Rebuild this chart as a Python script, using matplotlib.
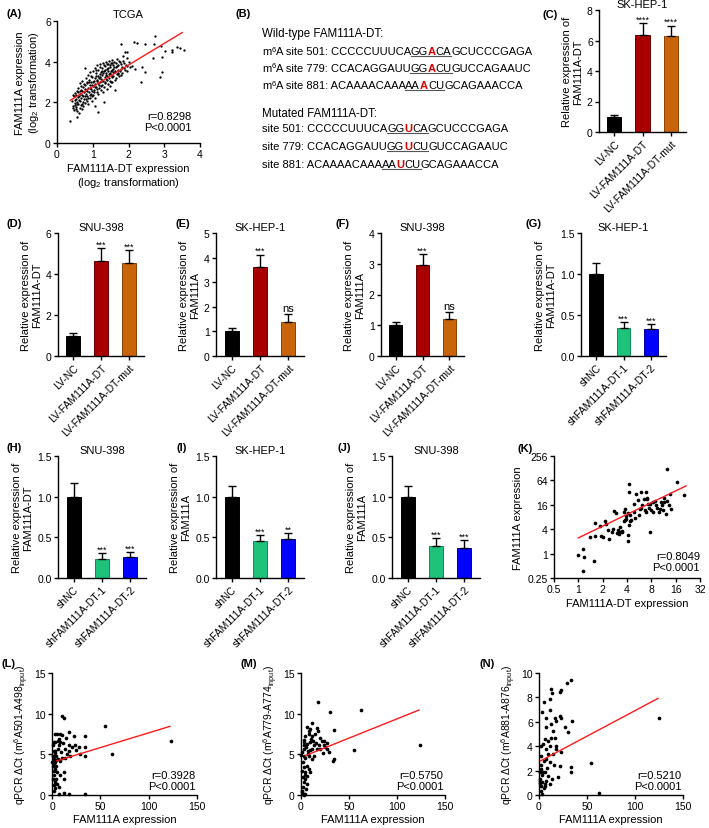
"""
FAM111A-DT / FAM111A multi-panel figure (A-N)
Saves out.png
"""
import numpy as np
import matplotlib.pyplot as plt
from matplotlib.lines import Line2D

plt.rcParams.update({
    "font.family": ["Liberation Sans", "DejaVu Sans"],
    "font.size": 8,
    "axes.linewidth": 1.0,
    "xtick.major.size": 3, "ytick.major.size": 3,
    "xtick.major.width": 1.0, "ytick.major.width": 1.0,
    "xtick.major.pad": 1.5, "ytick.major.pad": 1.5,
    "xtick.labelsize": 7.5, "ytick.labelsize": 7.5,
    "mathtext.fontset": "custom",
    "mathtext.rm": "Liberation Sans",
    "mathtext.it": "Liberation Sans:italic",
    "mathtext.bf": "Liberation Sans:bold",
    "mathtext.default": "regular",
})

# ---------------- data ----------------
# (A) TCGA scatter: FAM111A-DT (x) vs FAM111A (y), log2
a_points = [
    (0.42, 2.05), (0.45, 1.82), (0.47, 2.3), (0.48, 1.6), (0.5, 2.45), (0.5, 1.95), (0.52, 2.15),
    (0.53, 1.75), (0.55, 2.55), (0.55, 2.0), (0.57, 1.55), (0.58, 2.25), (0.6, 1.9), (0.6, 2.7),
    (0.62, 2.1), (0.63, 1.7), (0.64, 2.4), (0.65, 2.95), (0.66, 1.85), (0.67, 2.2), (0.68, 2.6),
    (0.7, 1.65), (0.7, 2.35), (0.71, 3.05), (0.72, 2.0), (0.73, 2.75), (0.74, 1.8), (0.75, 2.5),
    (0.76, 2.15), (0.77, 3.7), (0.78, 2.85), (0.79, 1.95), (0.8, 2.4), (0.8, 3.2), (0.82, 2.6),
    (0.83, 2.05), (0.84, 2.95), (0.85, 2.3), (0.86, 3.35), (0.87, 2.7), (0.88, 1.9), (0.89, 2.5),
    (0.9, 3.1), (0.91, 2.2), (0.92, 2.85), (0.93, 3.5), (0.94, 2.4), (0.95, 2.65), (0.96, 3.0),
    (0.97, 2.05), (0.98, 3.25), (0.99, 2.55), (1.0, 2.8), (1.01, 3.55), (1.02, 2.35), (1.03, 3.05),
    (1.04, 2.6), (1.05, 3.7), (1.06, 2.9), (1.07, 2.2), (1.08, 3.3), (1.09, 2.75), (1.1, 3.45),
    (1.11, 2.5), (1.12, 3.1), (1.13, 3.85), (1.14, 2.95), (1.15, 2.4), (1.16, 3.6), (1.17, 3.2),
    (1.18, 2.7), (1.19, 3.4), (1.2, 3.0), (1.21, 3.9), (1.22, 2.6), (1.23, 3.5), (1.24, 3.15),
    (1.25, 2.85), (1.26, 3.7), (1.27, 3.35), (1.28, 2.5), (1.29, 3.95), (1.3, 3.05), (1.31, 3.55),
    (1.32, 2.75), (1.33, 3.25), (1.34, 3.8), (1.35, 2.95), (1.36, 3.45), (1.37, 4.0), (1.38, 3.15),
    (1.39, 2.65), (1.4, 3.65), (1.41, 3.3), (1.42, 3.9), (1.43, 2.9), (1.44, 3.55), (1.45, 4.05),
    (1.46, 3.2), (1.47, 3.75), (1.48, 2.8), (1.49, 3.45), (1.5, 3.95), (1.52, 3.35), (1.53, 4.1),
    (1.54, 3.0), (1.55, 3.6), (1.56, 3.85), (1.58, 3.3), (1.6, 4.0), (1.61, 3.5), (1.62, 3.1),
    (1.64, 3.75), (1.66, 3.95), (1.67, 3.4), (1.69, 4.15), (1.7, 3.6), (1.72, 3.85), (1.74, 3.3),
    (1.76, 4.0), (1.78, 3.65), (1.8, 3.9), (1.82, 3.45), (1.85, 4.05), (1.88, 3.7), (1.92, 3.85),
    (1.95, 3.55), (2.0, 4.0), (2.05, 3.75),
    (0.44, 2.35), (0.46, 1.7), (0.49, 2.1), (0.51, 1.85), (0.54, 2.35), (0.56, 1.9), (0.59, 2.5),
    (0.61, 2.3), (0.63, 2.55), (0.65, 2.05), (0.67, 2.8), (0.69, 1.9), (0.71, 2.55), (0.73, 2.3),
    (0.75, 2.9), (0.77, 2.3), (0.79, 2.65), (0.81, 2.15), (0.83, 3.0), (0.85, 2.55), (0.87, 2.2),
    (0.89, 3.0), (0.91, 2.7), (0.93, 2.35), (0.95, 3.3), (0.97, 2.85), (0.99, 2.3), (1.01, 3.0),
    (1.03, 2.5), (1.05, 3.2), (1.07, 2.75), (1.09, 3.6), (1.11, 3.05), (1.13, 2.65), (1.15, 3.3),
    (1.17, 2.85), (1.19, 3.75), (1.21, 3.25), (1.23, 2.8), (1.25, 3.55), (1.27, 3.05), (1.29, 3.45),
    (1.31, 3.85), (1.33, 3.0), (1.35, 3.6), (1.37, 3.35), (1.39, 3.9), (1.41, 3.1), (1.43, 3.7),
    (1.45, 3.4), (1.47, 3.05), (1.49, 3.85), (1.51, 3.55), (1.53, 3.25), (1.55, 3.95), (1.57, 3.5),
    (1.59, 3.75), (1.63, 3.55), (1.65, 3.2), (1.68, 3.8), (1.71, 3.45), (1.73, 4.05), (1.75, 3.55),
    (1.79, 3.35), (1.83, 3.75), (1.87, 3.95), (1.9, 3.6), (1.97, 3.8),
    # outliers
    (0.36, 1.1), (1.79, 4.87), (2.14, 4.98), (2.23, 4.92), (2.46, 4.87), (2.75, 5.25), (2.7, 4.87),
    (2.91, 4.75), (3.02, 4.54), (3.21, 4.46), (3.22, 4.59), (3.36, 4.7), (3.45, 4.65), (3.54, 4.55),
    (2.93, 4.21), (2.69, 4.16), (2.39, 3.72), (2.35, 2.98), (2.93, 3.51), (2.88, 3.23), (2.18, 3.64),
    (2.11, 3.8), (2.46, 3.5), (1.14, 1.54), (1.32, 2.03), (1.06, 1.8), (0.55, 1.26), (0.62, 1.48),
    (0.52, 1.67), (1.9, 4.46), (1.97, 4.49), (1.86, 4.3), (1.95, 4.16), (1.58, 3.64), (1.72, 3.39),
    (1.51, 2.98), (1.62, 2.62),
]
a_fit_x = [0.37, 3.5]
a_fit_y = [2.1, 5.43]

# (B) m6A motifs: before, motif-left, site, motif-right, after
b_sites = ["501", "779", "881"]
b_wt = [("CCCCCUUUCA", "GG", "A", "CA", "GCUCCCGAGA"),
        ("CCACAGGAUU", "GG", "A", "CU", "GUCCAGAAUC"),
        ("ACAAAACAAA", "AA", "A", "CU", "GCAGAAACCA")]
b_mut = [("CCCCCUUUCA", "GG", "U", "CA", "GCUCCCGAGA"),
         ("CCACAGGAUU", "GG", "U", "CU", "GUCCAGAAUC"),
         ("ACAAAACAAA", "AA", "U", "CU", "GCAGAAACCA")]

# (C)-(J) qPCR bars
lv_groups = ["LV-NC", "LV-FAM111A-DT", "LV-FAM111A-DT-mut"]
sh_groups = ["shNC", "shFAM111A-DT-1", "shFAM111A-DT-2"]
c_mean, c_err, c_sig = [1.0, 6.38, 6.27], [0.1, 0.75, 0.7], ["", "****", "****"]
d_mean, d_err, d_sig = [1.0, 4.65, 4.55], [0.1, 0.6, 0.62], ["", "***", "***"]
e_mean, e_err, e_sig = [1.0, 3.62, 1.37], [0.13, 0.5, 0.33], ["", "***", "ns"]
f_mean, f_err, f_sig = [1.0, 2.96, 1.2], [0.12, 0.35, 0.22], ["", "***", "ns"]
g_mean, g_err, g_sig = [1.0, 0.345, 0.335], [0.14, 0.065, 0.05], ["", "***", "***"]
h_mean, h_err, h_sig = [1.0, 0.237, 0.257], [0.17, 0.07, 0.062], ["", "***", "***"]
i_mean, i_err, i_sig = [1.0, 0.46, 0.48], [0.135, 0.068, 0.07], ["", "***", "**"]
j_mean, j_err, j_sig = [1.0, 0.39, 0.37], [0.135, 0.1, 0.095], ["", "***", "***"]

# (K) FAM111A-DT vs FAM111A (log2 axes)
k_points = [
    (0.98, 0.93), (1.14, 1.3), (1.19, 0.81), (1.14, 0.37), (1.55, 0.65), (1.38, 2.53), (1.62, 2.67),
    (1.62, 5.7), (1.87, 4.8), (1.9, 2.67), (2.0, 2.5), (2.22, 5.3), (2.15, 6.5), (2.42, 2.27),
    (2.7, 4.1), (2.8, 11.4), (2.9, 10.1), (3.1, 3.9), (3.2, 3.4), (3.15, 3.1), (3.5, 3.6),
    (3.76, 12.3), (3.7, 10.6), (3.65, 6.5), (3.8, 6.9), (4.1, 10.0), (4.2, 53), (4.2, 34),
    (3.9, 7.2), (4.2, 5.1), (4.1, 2.9), (4.15, 2.0), (4.4, 6.2), (4.5, 6.9), (4.9, 10.6),
    (4.95, 17), (5.2, 30), (5.4, 20.5), (5.9, 33), (5.8, 12.7), (6.2, 16), (6.8, 33), (7.0, 23),
    (6.5, 22.5), (6.6, 11.6), (7.1, 22), (7.3, 17), (7.5, 13.3), (6.9, 10.6), (7.7, 3.5),
    (8.5, 18.6), (8.5, 10.6), (9.1, 16), (9.5, 13.3), (10.5, 18.6), (10.9, 15.5), (11.5, 23),
    (11.5, 18.6), (11.3, 11.6), (10.0, 10.6), (12.0, 9.6), (12.4, 125), (13.6, 30), (14.2, 12.7),
    (16.5, 60), (20.0, 28), (2.3, 3.8), (2.6, 3.5), (3.0, 3.3), (3.3, 4.5), (3.45, 3.4),
    (3.9, 8.5), (4.4, 9.2), (5.0, 7.5), (5.6, 9.0), (6.0, 13), (8.0, 12), (9.0, 20), (10.2, 12.5),
    (12.5, 20), (13.2, 16), (7.8, 17),
]
k_fit_x = [1.0, 21.5]
k_fit_y = [2.44, 46.9]

# (L)-(N) FAM111A expression vs m6A qPCR delta Ct
l_points = [
    (10.3, 9.67), (12.1, 9.5), (55, 8.5), (123, 6.6), (62, 5.1), (2.8, 7.5), (5.2, 7.5), (8, 7.5),
    (10.3, 7.4), (17.2, 7.7), (22.4, 7.3), (33.8, 7.3), (3.4, 6.5), (5.9, 6.6), (8.6, 6.5),
    (11, 6.4), (6.9, 6.1), (13.8, 5.6), (17.2, 6.1), (20.7, 5.9), (24, 6.1), (27.6, 5.9),
    (34.5, 5.9), (34.5, 4.75), (29.3, 5.0), (1.7, 5.45), (3.4, 5.2), (1, 4.8), (1.7, 4.4),
    (2.8, 4.0), (1, 3.6), (3.4, 3.2), (1.7, 2.9), (2.4, 2.4), (4.5, 2.0), (3.4, 1.6), (5.2, 1.35),
    (6.9, 0.95), (1.7, 0.5), (5.2, 2.8), (8.6, 2.4), (12, 2.0), (12, 2.8), (6.9, 0.1), (17.2, 0.1),
    (12, 0.3), (33.8, 0.1), (15.5, 5.0), (19, 4.8), (10.3, 4.6), (8.6, 4.2), (13.8, 4.5),
    (4.5, 4.8), (5.9, 4.4), (1, 6.1), (1.7, 6.5), (2.8, 5.45), (2.0, 3.9), (4.0, 3.6), (0.8, 2.0),
    (2.2, 1.2), (3.0, 0.9), (6.0, 5.6), (9.0, 5.3), (7.5, 6.9), (14.5, 7.0), (25.0, 5.5),
    (18.0, 5.4), (3.8, 4.3), (0.5, 4.0),
]
l_fit_x = [5.0, 122.0]
l_fit_y = [4.2, 8.44]

m_points = [
    (17.3, 11.4), (29.8, 10.25), (62.3, 10.5), (124, 6.2), (54.7, 5.5), (34.6, 8.0), (33.9, 4.4),
    (33.2, 4.2), (11.4, 8.85), (9.7, 8.1), (16.6, 8.2), (6.2, 8.4), (8, 7.5), (4.5, 7.3),
    (14.9, 7.5), (19.4, 7.0), (21.8, 6.7), (23.5, 6.1), (2.8, 6.5), (6.2, 6.3), (9.7, 6.5),
    (11.4, 5.7), (13.8, 6.1), (16.6, 5.7), (20, 5.65), (22.8, 5.2), (27, 5.65), (28.7, 5.25),
    (1, 5.25), (2.8, 4.85), (4.5, 4.5), (8, 4.85), (11.4, 4.4), (13.1, 4.85), (1.7, 4.0),
    (2.8, 3.4), (3.8, 2.8), (2, 2.2), (4.5, 2.0), (3.5, 1.55), (6.2, 1.35), (5.5, 0.75), (1, 0.4),
    (2, 0.12), (2.8, 0.0), (1, 0.5), (4.5, 0.1), (8, 3.2), (6.2, 3.6), (9.7, 2.8), (2.8, 6.1),
    (0.3, 4.9), (17.3, 7.9), (23.5, 6.6), (27, 6.4), (8, 7.9), (11.4, 7.3), (3.0, 5.6),
    (5.0, 5.9), (7.0, 5.4), (10.0, 6.9), (12.5, 6.6), (15.5, 6.4), (18.5, 6.2), (25.0, 5.9),
    (1.5, 3.0), (2.5, 1.0), (4.0, 2.4), (6.0, 2.3), (7.5, 5.0), (9.0, 5.5), (3.5, 6.8),
]
m_fit_x = [4.5, 123.0]
m_fit_y = [4.84, 10.45]

n_points = [
    (29.2, 9.15), (33.7, 9.45), (124.7, 6.28), (54.5, 2.6), (62.2, 0.14), (23.3, 8.6),
    (22.2, 8.45), (12.8, 8.7), (13.9, 8.4), (11.1, 7.85), (5.2, 7.6), (3.5, 6.8), (6.9, 6.3),
    (11.1, 7.0), (16.3, 6.3), (18.1, 6.1), (21.5, 6.5), (23.3, 6.35), (26.7, 5.6), (30.2, 5.2),
    (34.4, 6.1), (12.2, 5.8), (7.6, 5.55), (14.6, 5.27), (5.9, 4.6), (9.4, 4.45), (12.8, 4.7),
    (16.3, 4.7), (18.1, 4.05), (6.9, 3.77), (11.1, 4.05), (1.7, 4.05), (4.2, 4.2), (14.6, 3.36),
    (23.3, 3.5), (18.1, 3.77), (2.4, 3.22), (4.9, 2.8), (7.6, 2.95), (11.1, 2.68), (15.3, 2.46),
    (21.5, 2.4), (0.7, 1.86), (2.4, 2.13), (5.9, 1.86), (9.4, 1.58), (13.9, 1.31), (19.8, 1.45),
    (33.7, 2.27), (33.0, 1.86), (1.4, 1.31), (3.5, 1.04), (5.9, 0.9), (2.4, 0.77), (4.9, 0.55),
    (1.7, 0.36), (0.7, 1.17), (6.9, 1.17), (11.1, 0.9), (3.5, 0.08), (8.5, 2.2), (3.0, 1.6),
    (1.2, 0.95), (2.0, 2.5), (6.0, 0.7), (4.0, 1.9), (9.0, 3.4),
]
n_fit_x = [1.7, 124.0]
n_fit_y = [2.8, 7.92]

# ---------------- layout helpers ----------------
W, H = 709, 829
fig = plt.figure(figsize=(W / 100, H / 100), dpi=100)
renderer = fig.canvas.get_renderer()

RED_LINE = "#ff1a1a"
lv_colors, lv_edges = ["black", "#a80000", "#c8640a"], ["black", "#6a0000", "#8a4200"]
sh_colors, sh_edges = ["black", "#1fc27a", "#0000ff"], ["black", "#108a50", "#0000a0"]


def add_ax(left, top, right, bottom):
    ax = fig.add_axes([left / W, 1 - bottom / H, (right - left) / W, (bottom - top) / H])
    ax.spines[["top", "right"]].set_visible(False)
    return ax


def panel_label(x, y, s):
    fig.text(x / W, 1 - y / H, s, fontsize=8, fontweight="bold", ha="center", va="center")


def bar_panel(box, title, ylab, groups, mean, err, sig, colors, edges, yticks, ytl):
    ax = add_ax(*box)
    x = np.arange(len(groups))
    ax.bar(x, mean, width=0.5, color=colors, edgecolor=edges, linewidth=0.7, zorder=2)
    ax.errorbar(x, mean, yerr=[np.zeros(len(err)), err], fmt="none", ecolor="black",
                elinewidth=1, capsize=2.8, capthick=1, zorder=3)
    for xi, m, e, s in zip(x, mean, err, sig):
        if s == "ns":
            ax.annotate(s, (xi, m + e), xytext=(0, 2.5), textcoords="offset points",
                        ha="center", va="baseline", fontsize=8)
        elif s:
            ax.annotate(s, (xi, m + e), xytext=(0, 1.2), textcoords="offset points",
                        ha="center", va="baseline", fontsize=6.5)
    ax.set_xlim(-0.55, 2.55)
    ax.set_ylim(yticks[0], yticks[-1])
    ax.set_yticks(yticks, ytl)
    ax.set_xticks(x, groups, rotation=45, ha="right", rotation_mode="anchor")
    ax.set_title(title, fontsize=8, pad=2)
    ax.set_ylabel(ylab, fontsize=8, labelpad=3, linespacing=1.15)
    return ax


def stat_text(ax, r, x=0.99, y=0.04):
    ax.text(x, y, f"r={r}\nP<0.0001", transform=ax.transAxes, ha="right", va="bottom",
            fontsize=8, linespacing=1.15)


def text_width(s, size, weight="normal"):
    t1 = fig.text(0, 0, "|" + s + "|", fontsize=size, fontweight=weight)
    t2 = fig.text(0, 0, "||", fontsize=size, fontweight=weight)
    w = t1.get_window_extent(renderer).width - t2.get_window_extent(renderer).width
    t1.remove()
    t2.remove()
    return w


def seq_line(x, y, parts):
    # parts: (text, color, weight, underline, size, rise)
    for s, color, weight, under, size, rise in parts:
        w = text_width(s, size, weight)
        fig.text(x / W, 1 - (y - rise) / H, s, fontsize=size, color=color,
                 fontweight=weight, va="baseline")
        if under:
            fig.add_artist(Line2D([x / W, (x + w) / W], [1 - (y + 2) / H] * 2,
                                  color="#555555", lw=0.8))
        x += w


# ---------------- (A) ----------------
axA = add_ax(57, 22, 200, 144)
a_x, a_y = np.array(a_points).T
axA.scatter(a_x, a_y, s=2.8, color="black", linewidths=0, zorder=2)
axA.plot(a_fit_x, a_fit_y, color=RED_LINE, lw=1, zorder=3)
axA.set_xlim(0, 4)
axA.set_ylim(0, 6)
axA.set_xticks([0, 1, 2, 3, 4])
axA.set_yticks([0, 2, 4, 6])
axA.set_title("TCGA", fontsize=8, pad=3)
axA.set_xlabel("FAM111A-DT expression\n(log$_2$ transformation)", fontsize=8, labelpad=3,
               linespacing=1.2)
axA.set_ylabel("FAM111A expression\n(log$_2$ transformation)", fontsize=8, labelpad=3,
               linespacing=1.2)
stat_text(axA, "0.8298", x=0.94, y=0.09)
panel_label(14, 14, "(A)")

# ---------------- (B) ----------------
BS = 8
panel_label(243, 14, "(B)")
fig.text(262 / W, 1 - 37 / H, "Wild-type FAM111A-DT:", fontsize=8.3, va="baseline")
fig.text(262 / W, 1 - 117 / H, "Mutated FAM111A-DT:", fontsize=8.3, va="baseline")
for i, (site, wt, mu) in enumerate(zip(b_sites, b_wt, b_mut)):
    yw = 55 + i * 17
    seq_line(262, yw, [("m", "black", "normal", False, BS, 0),
                       ("6", "black", "normal", False, 5.5, 3.5),
                       ("A site " + site + ": " + wt[0], "black", "normal", False, BS, 0),
                       (wt[1], "black", "normal", True, BS, 0),
                       (wt[2], "#e00000", "bold", True, BS, 0),
                       (wt[3], "black", "normal", True, BS, 0),
                       (wt[4], "black", "normal", False, BS, 0)])
    ym = 132 + i * 18
    seq_line(262, ym, [("site " + site + ": " + mu[0], "black", "normal", False, BS, 0),
                       (mu[1], "black", "normal", True, BS, 0),
                       (mu[2], "#e00000", "bold", True, BS, 0),
                       (mu[3], "black", "normal", True, BS, 0),
                       (mu[4], "black", "normal", False, BS, 0)])

# ---------------- (C)-(J) ----------------
yl_dt = "Relative expression of\nFAM111A-DT"
yl_a = "Relative expression of\nFAM111A"
half = ["0.0", "0.5", "1.0", "1.5"]

bar_panel((599, 11, 686, 133), "SK-HEP-1", yl_dt, lv_groups, c_mean, c_err, c_sig,
          lv_colors, lv_edges, [0, 2, 4, 6, 8], ["0", "2", "4", "6", "8"])
panel_label(550, 15, "(C)")
bar_panel((58, 234, 144, 357), "SNU-398", yl_dt, lv_groups, d_mean, d_err, d_sig,
          lv_colors, lv_edges, [0, 2, 4, 6], ["0", "2", "4", "6"])
panel_label(14, 224, "(D)")
bar_panel((216, 234, 304, 357), "SK-HEP-1", yl_a, lv_groups, e_mean, e_err, e_sig,
          lv_colors, lv_edges, [0, 1, 2, 3, 4, 5], ["0", "1", "2", "3", "4", "5"])
panel_label(183, 224, "(E)")
bar_panel((381, 234, 464, 357), "SNU-398", yl_a, lv_groups, f_mean, f_err, f_sig,
          lv_colors, lv_edges, [0, 1, 2, 3, 4], ["0", "1", "2", "3", "4"])
panel_label(342, 224, "(F)")
bar_panel((581, 234, 666, 357), "SK-HEP-1", yl_dt, sh_groups, g_mean, g_err, g_sig,
          sh_colors, sh_edges, [0, 0.5, 1.0, 1.5], half)
panel_label(533, 224, "(G)")
bar_panel((58, 457, 146, 579), "SNU-398", yl_dt, sh_groups, h_mean, h_err, h_sig,
          sh_colors, sh_edges, [0, 0.5, 1.0, 1.5], half)
panel_label(14, 448, "(H)")
bar_panel((216, 457, 304, 579), "SK-HEP-1", yl_a, sh_groups, i_mean, i_err, i_sig,
          sh_colors, sh_edges, [0, 0.5, 1.0, 1.5], half)
panel_label(182, 448, "(I)")
bar_panel((392, 457, 480, 579), "SNU-398", yl_a, sh_groups, j_mean, j_err, j_sig,
          sh_colors, sh_edges, [0, 0.5, 1.0, 1.5], half)
panel_label(344, 448, "(J)")

# ---------------- (K) ----------------
axK = add_ax(554, 457, 700, 579)
k_x, k_y = np.array(k_points).T
axK.scatter(k_x, k_y, s=7, color="black", linewidths=0, zorder=2)
axK.plot(k_fit_x, k_fit_y, color=RED_LINE, lw=1, zorder=3)
axK.set_xscale("log", base=2)
axK.set_yscale("log", base=2)
axK.set_xlim(0.5, 32)
axK.set_ylim(0.25, 256)
axK.set_xticks([0.5, 1, 2, 4, 8, 16, 32], ["0.5", "1", "2", "4", "8", "16", "32"])
axK.set_yticks([0.25, 1, 4, 16, 64, 256], ["0.25", "1", "4", "16", "64", "256"])
axK.minorticks_off()
axK.set_xlabel("FAM111A-DT expression", fontsize=8, labelpad=3)
axK.set_ylabel("FAM111A expression", fontsize=8, labelpad=3)
stat_text(axK, "0.8049", x=1.0, y=0.05)
panel_label(525, 449, "(K)")

# ---------------- (L)-(N) ----------------
lmn = [
    ((52, 674, 197, 796), l_points, l_fit_x, l_fit_y, "0.3928", "A501-A498", 15, "(L)", 8),
    ((301, 674, 445, 796), m_points, m_fit_x, m_fit_y, "0.5750", "A779-A774", 15, "(M)", 249),
    ((539, 674, 683, 796), n_points, n_fit_x, n_fit_y, "0.5210", "A881-A876", 10, "(N)", 487),
]
for box, pts, fx, fy, r, site, ymax, lab, lx in lmn:
    ax = add_ax(*box)
    px, py = np.array(pts).T
    ax.scatter(px, py, s=7, color="black", linewidths=0, zorder=2, clip_on=False)
    ax.plot(fx, fy, color=RED_LINE, lw=1, zorder=3)
    ax.set_xlim(0, 150)
    ax.set_ylim(0, ymax)
    ax.set_xticks([0, 50, 100, 150])
    ax.set_yticks(np.arange(0, ymax + 1, 5 if ymax == 15 else 2))
    ax.set_xlabel("FAM111A expression", fontsize=8, labelpad=2)
    ax.set_ylabel("qPCR \u0394Ct (m$^6$" + site + "$_{input}$)", fontsize=7.5, labelpad=2)
    stat_text(ax, r, x=0.99, y=0.03)
    panel_label(lx, 664, lab)

fig.savefig("out.png", dpi=100)
